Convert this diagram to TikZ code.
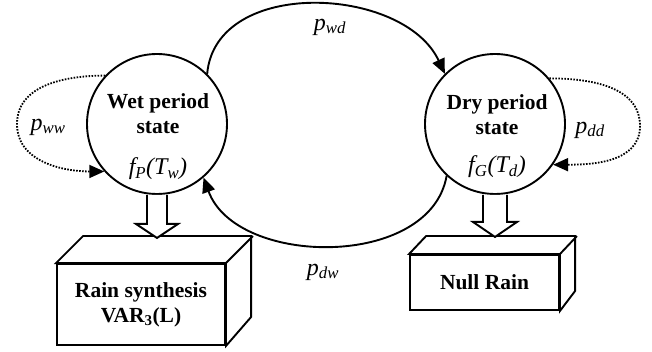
\documentclass[tikz,border=0pt]{standalone}
\usepackage{fontspec}
\setmainfont{Liberation Serif}
\usetikzlibrary{arrows.meta}

\begin{document}
\begin{tikzpicture}[x=1pt,y=-1pt,line width=1.9pt]
      \tikzstyle{state}=[circle,draw,minimum size=140pt,inner sep=0pt]
      \tikzstyle{face}=[draw,fill=white,inner sep=0pt,align=center,font=\bfseries\fontsize{21.5}{25}\selectfont]
      \tikzstyle{title}=[align=center,font=\bfseries\fontsize{21.5}{25}\selectfont]
      \tikzstyle{prob}=[inner sep=1pt,font=\itshape\fontsize{24}{28}\selectfont]
      \tikzstyle{trans}=[-{Triangle[length=15pt,width=13pt]}]
      \tikzstyle{selfloop}=[trans,line width=1.8pt,dash pattern=on 1.6pt off 1.4pt]
      \tikzstyle{hollow}=[draw,fill=white,line join=miter]

      \useasboundingbox (0,0) rectangle (652,352);

      % states
      \node[state] (wet) at (157,124) {};
      \node[state] (dry) at (495,124) {};
      \node[title] (wettext) at (158,114) {Wet period\\state};
      \node[title] (drytext) at (497,115) {Dry period\\state};
      \node[prob] (fp) at (158,169) {f\textsubscript{P}(T\textsubscript{w})};
      \node[prob] (fg) at (497,167) {f\textsubscript{G}(T\textsubscript{d})};

      % outputs
      \node[face,minimum width=168pt,minimum height=81pt] (rain) at (141,304.5) {Rain synthesis\\VAR\textsubscript{3}(L)};
      \draw[fill=white] (rain.north west) -- ++(27,-27) -- ++(168,0) -- ++(0,81) -- (rain.south east) -- (rain.north east) -- cycle;
      \draw (rain.north east) -- ++(27,-27);
      \node[face,minimum width=149pt,minimum height=55pt] (null) at (484.5,282.5) {Null Rain};
      \draw[fill=white] (null.north west) -- ++(17,-18) -- ++(149,0) -- ++(0,55) -- (null.south east) -- (null.north east) -- cycle;
      \draw (null.north east) -- ++(17,-18);

      \draw[hollow] ([xshift=-10pt]wet.south) -- ++(0,29) -- ++(-11,0) -- ++(21,14) -- ++(21,-14) -- ++(-11,0) -- ++(0,-29);
      \draw[hollow] ([xshift=-12pt]dry.south) -- ++(0,27) -- ++(-10,0) -- ++(22,15) -- ++(22,-15) -- ++(-10,0) -- ++(0,-27);

      % transitions
      \draw[trans] (wet.45) to[out=85,in=115,looseness=1.05] (dry.135);
      \draw[trans] (dry.-133) to[out=-100,in=-70] (wet.-49);
      \coordinate (wwturn) at (17,124);
      \coordinate (ddturn) at (640,126);
      \draw[selfloop] (wet.137) to[out=180,in=90] (wwturn) to[out=-90,in=180] (wet.222);
      \draw[selfloop] (dry.40) to[out=0,in=90] (ddturn) to[out=-90,in=0] (dry.-35);

      \node[prob] (pwd) at (330,27) {p\textsubscript{wd}};
      \node[prob] (pdw) at (323,272) {p\textsubscript{dw}};
      \node[prob] (pww) at (48,127) {p\textsubscript{ww}};
      \node[prob] (pdd) at (590,130) {p\textsubscript{dd}};
\end{tikzpicture}
\end{document}
